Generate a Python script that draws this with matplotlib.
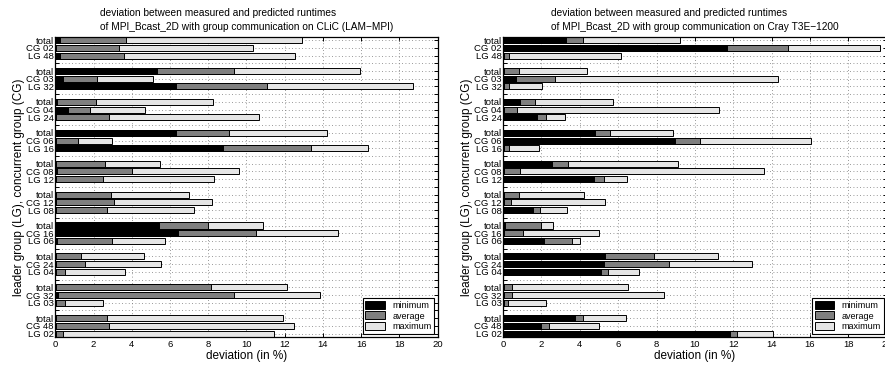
import numpy as np
import matplotlib.pyplot as plt
from matplotlib.patches import Patch

plt.rcParams['font.family'] = ['Liberation Sans', 'DejaVu Sans']

# concurrent groups and leader groups (paired)
cg = ['02', '03', '04', '06', '08', '12', '16', '24', '32', '48']
lg = ['48', '32', '24', '16', '12', '08', '06', '04', '03', '02']

# CLiC (LAM-MPI): rows per group are total, CG, LG
clic_min = [0.24, 0.05, 0.24,  5.32, 0.42, 6.29,  0.10, 0.66, 0.03,
            6.31, 0.03, 8.77,  0.03, 0.10, 0.03,  0.03, 0.03, 0.03,
            5.44, 6.43, 0.10,  0.03, 0.03, 0.03,  0.05, 0.12, 0.03,
            0.03, 0.03, 0.03]
clic_avg = [3.70, 3.33, 3.60,  9.36, 2.20, 11.09,  2.13, 1.81, 2.79,
            9.10, 1.17, 13.36,  2.62, 3.99, 2.51,  2.93, 3.05, 2.72,
            7.97, 10.48, 2.98,  1.34, 1.55, 0.50,  8.16, 9.36, 0.52,
            2.69, 2.82, 0.38]
clic_max = [12.90, 10.36, 12.55,  15.95, 5.10, 18.73,  8.26, 4.69, 10.67,
            14.23, 2.95, 16.34,  5.48, 9.63, 8.28,  6.99, 8.21, 7.27,
            10.88, 14.80, 5.75,  4.62, 5.54, 3.64,  12.10, 13.86, 2.49,
            11.89, 12.50, 11.42]

# Cray T3E-1200
t3e_min = [3.27, 11.69, 0.07,  0.03, 0.69, 0.07,  0.90, 0.03, 1.79,
           4.81, 8.98, 0.03,  2.55, 0.03, 4.74,  0.07, 0.03, 1.55,
           0.10, 0.03, 2.15,  5.32, 5.25, 5.13,  0.03, 0.03, 0.03,
           3.74, 1.96, 11.85]
t3e_avg = [4.15, 14.84, 0.33,  0.82, 2.73, 0.30,  1.65, 0.75, 2.26,
           5.59, 10.28, 0.30,  3.41, 0.89, 5.28,  0.82, 0.42, 1.93,
           2.00, 1.06, 3.61,  7.85, 8.65, 5.49,  0.45, 0.49, 0.24,
           4.15, 2.41, 12.20]
t3e_max = [9.24, 19.67, 6.15,  4.36, 14.35, 2.03,  5.72, 11.24, 3.25,
           8.88, 16.04, 1.89,  9.12, 13.59, 6.46,  4.22, 5.30, 3.35,
           2.62, 5.02, 4.01,  11.22, 12.98, 7.11,  6.50, 8.41, 2.24,
           6.43, 5.02, 14.09]

systems = ['CLiC (LAM\u2212MPI)', 'Cray T3E\u22121200']

# row layout: three bars per group, one empty row between groups
rows = []
labels = []
for g in range(len(cg)):
    rows += [4*g, 4*g+1, 4*g+2]
    labels += ['total', 'CG ' + cg[g], 'LG ' + lg[g]]
nrows = 4*len(cg) - 1
ticklab = [''] * nrows
for r, l in zip(rows, labels):
    ticklab[r] = l

c_min = 'black'; c_avg = '#7f7f7f'; c_max = '#e5e5e5'

fig = plt.figure(figsize=(8.85, 3.65), dpi=100)
ax1 = fig.add_axes([0.0625, 0.077, 0.432, 0.822])
ax2 = fig.add_axes([0.5684, 0.077, 0.4336, 0.822])

data = [(clic_min, clic_avg, clic_max), (t3e_min, t3e_avg, t3e_max)]
for ax, (vmin, vavg, vmax), name in zip([ax1, ax2], data, systems):
    ax.set_axisbelow(True)
    for v, c in [(vmax, c_max), (vavg, c_avg), (vmin, c_min)]:
        ax.barh(rows, v, height=0.78, color=c, edgecolor='black', linewidth=0.7)
    ax.set_xlim(0, 20)
    ax.set_ylim(nrows - 1 + 0.42, -0.42)
    ax.set_xticks(np.arange(0, 21, 2))
    ax.set_yticks(np.arange(nrows))
    ax.set_yticklabels(ticklab, fontsize=6.8)
    ax.tick_params(axis='x', labelsize=6.8, pad=2)
    ax.tick_params(axis='y', pad=1)
    ax.tick_params(direction='in', length=3, width=0.7, top=True, right=True)
    ax.grid(True, linestyle=(0, (1, 3)), linewidth=0.6, color='#777777')
    for s in ax.spines.values():
        s.set_linewidth(0.9)
    ax.set_xlabel('deviation (in %)', fontsize=8.5, labelpad=1)
    ax.set_ylabel('leader group (LG), concurrent group (CG)', fontsize=8.5, labelpad=1)
    ax.set_title('deviation between measured and predicted runtimes\n'
                 'of MPI_Bcast_2D with group communication on ' + name,
                 fontsize=7.3, ma='left', pad=5, linespacing=1.5)
    handles = [Patch(facecolor=c_min, edgecolor='black', linewidth=0.7, label='minimum'),
               Patch(facecolor=c_avg, edgecolor='black', linewidth=0.7, label='average'),
               Patch(facecolor=c_max, edgecolor='black', linewidth=0.7, label='maximum')]
    leg = ax.legend(handles=handles, loc='lower right', fontsize=6.5, fancybox=False,
                    framealpha=1, edgecolor='black', borderaxespad=0.35,
                    handlelength=2.2, handleheight=1.0, labelspacing=0.15,
                    borderpad=0.3, handletextpad=0.8)
    leg.get_frame().set_linewidth(0.8)

fig.savefig('out.png', dpi=100)
